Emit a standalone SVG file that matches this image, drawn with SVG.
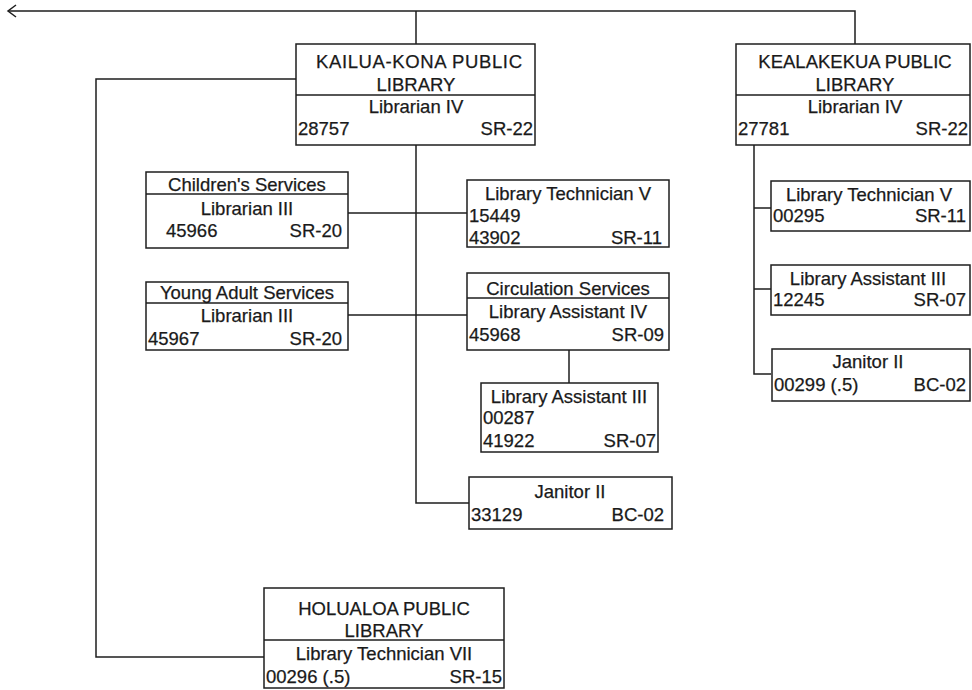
<svg xmlns="http://www.w3.org/2000/svg" width="972" height="690" viewBox="0 0 972 690">
<style>
.bg{fill:#ffffff}
.box{fill:#ffffff;stroke:#1e1e1e;stroke-width:1.5}
.div{stroke:#1e1e1e;stroke-width:1.5;fill:none}
.con{stroke:#1e1e1e;stroke-width:1.5;fill:none}
text{font-family:"Liberation Sans",Arial,sans-serif;font-size:18.5px;fill:#1a1a1a;stroke:#1a1a1a;stroke-width:0.25}
.c{text-anchor:middle}
.r{text-anchor:end}
</style>
<defs>
<marker id="arr" markerWidth="12" markerHeight="14" refX="9" refY="7" orient="auto" markerUnits="userSpaceOnUse">
<path d="M1,1 L9,7 L1,13" fill="none" stroke="#1e1e1e" stroke-width="1.5"/>
</marker>
</defs>
<rect class="bg" x="0" y="0" width="972" height="690"/>
<g id="connectors">
<path class="con" d="M855,44 V11 H8" marker-end="url(#arr)"/>
<path class="con" d="M416,11 V44"/>
<path class="con" d="M296,79 H96 V657 H264"/>
<path class="con" d="M416,145 V503 H469"/>
<path class="con" d="M348,213 H467"/>
<path class="con" d="M348,315 H467"/>
<path class="con" d="M569,350 V383"/>
<path class="con" d="M754,145 V374 H771"/>
<path class="con" d="M754,208 H771"/>
<path class="con" d="M754,289 H771"/>
</g>
<g id="kailua-kona">
<rect class="box" x="296" y="44" width="239" height="101"/>
<line class="div" x1="296" y1="95" x2="535" y2="95"/>
<text class="c" x="419" y="68" textLength="206">KAILUA-KONA PUBLIC</text>
<text class="c" x="416" y="91">LIBRARY</text>
<text class="c" x="416" y="113">Librarian IV</text>
<text x="298" y="135">28757</text>
<text class="r" x="533" y="135">SR-22</text>
</g>
<g id="kealakekua">
<rect class="box" x="736" y="44" width="234" height="101"/>
<line class="div" x1="736" y1="95" x2="970" y2="95"/>
<text class="c" x="855" y="68">KEALAKEKUA PUBLIC</text>
<text class="c" x="855" y="91">LIBRARY</text>
<text class="c" x="855" y="113">Librarian IV</text>
<text x="738" y="135">27781</text>
<text class="r" x="968" y="135">SR-22</text>
</g>
<g id="childrens-services">
<rect class="box" x="146" y="172" width="202" height="76"/>
<line class="div" x1="146" y1="194" x2="348" y2="194"/>
<text class="c" x="247" y="191">Children's Services</text>
<text class="c" x="247" y="215">Librarian III</text>
<text x="166" y="237">45966</text>
<text class="r" x="342" y="237">SR-20</text>
</g>
<g id="young-adult-services">
<rect class="box" x="146" y="282" width="202" height="68"/>
<line class="div" x1="146" y1="303" x2="348" y2="303"/>
<text class="c" x="247" y="299">Young Adult Services</text>
<text class="c" x="247" y="322">Librarian III</text>
<text x="148" y="345">45967</text>
<text class="r" x="342" y="345">SR-20</text>
</g>
<g id="kk-library-technician-v">
<rect class="box" x="467" y="180" width="202" height="67"/>
<text class="c" x="568" y="200">Library Technician V</text>
<text x="469" y="222">15449</text>
<text x="469" y="244">43902</text>
<text class="r" x="662" y="244">SR-11</text>
</g>
<g id="circulation-services">
<rect class="box" x="467" y="273" width="202" height="77"/>
<line class="div" x1="467" y1="298" x2="669" y2="298"/>
<text class="c" x="568" y="295">Circulation Services</text>
<text class="c" x="568" y="318">Library Assistant IV</text>
<text x="469" y="341">45968</text>
<text class="r" x="664" y="341">SR-09</text>
</g>
<g id="kk-library-assistant-iii">
<rect class="box" x="481" y="383" width="177" height="69"/>
<text class="c" x="569" y="403">Library Assistant III</text>
<text x="483" y="424">00287</text>
<text x="483" y="447">41922</text>
<text class="r" x="656" y="447">SR-07</text>
</g>
<g id="kk-janitor-ii">
<rect class="box" x="469" y="477" width="203" height="52"/>
<text class="c" x="570" y="498">Janitor II</text>
<text x="471" y="521">33129</text>
<text class="r" x="664" y="521">BC-02</text>
</g>
<g id="holualoa">
<rect class="box" x="264" y="588" width="240" height="100"/>
<line class="div" x1="264" y1="640" x2="504" y2="640"/>
<text class="c" x="384" y="615">HOLUALOA PUBLIC</text>
<text class="c" x="384" y="637">LIBRARY</text>
<text class="c" x="384" y="660">Library Technician VII</text>
<text x="266" y="683">00296 (.5)</text>
<text class="r" x="502" y="683">SR-15</text>
</g>
<g id="ke-library-technician-v">
<rect class="box" x="771" y="181" width="199" height="50"/>
<text class="c" x="869" y="201">Library Technician V</text>
<text x="773" y="222">00295</text>
<text class="r" x="966" y="222">SR-11</text>
</g>
<g id="ke-library-assistant-iii">
<rect class="box" x="771" y="265" width="199" height="50"/>
<text class="c" x="868" y="285">Library Assistant III</text>
<text x="773" y="306">12245</text>
<text class="r" x="966" y="306">SR-07</text>
</g>
<g id="ke-janitor-ii">
<rect class="box" x="772" y="349" width="198" height="52"/>
<text class="c" x="868" y="368">Janitor II</text>
<text x="774" y="391">00299 (.5)</text>
<text class="r" x="966" y="391">BC-02</text>
</g>
</svg>
